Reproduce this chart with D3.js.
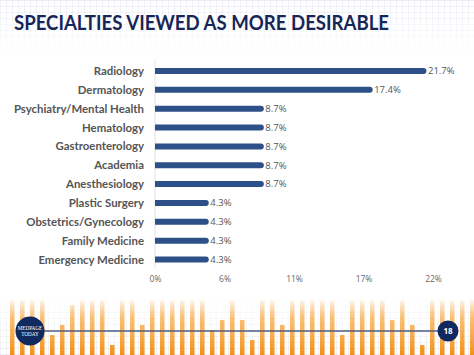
<!DOCTYPE html>
<html><head><meta charset="utf-8">
<script src="https://cdn.jsdelivr.net/npm/d3@7/dist/d3.min.js"></script>
<style>html,body{margin:0;padding:0;background:#fff;}svg{display:block;}</style>
</head><body>
<script>
const categories = ["Radiology","Dermatology","Psychiatry/Mental Health","Hematology","Gastroenterology","Academia","Anesthesiology","Plastic Surgery","Obstetrics/Gynecology","Family Medicine","Emergency Medicine"];
const values = [21.7,17.4,8.7,8.7,8.7,8.7,8.7,4.3,4.3,4.3,4.3];
const tickValues = [0, 100/18, 200/18, 300/18, 400/18];
const tickLabels = ["0%","6%","11%","17%","22%"];
const titleText = "SPECIALTIES VIEWED AS MORE DESIRABLE";
const pageNumber = "18";
// decorative footer stripe tops
const footerTops = [300,300,300,300,335,325,305,300,300,300,345,300,300,325,300,300,300,300,300,300,330,320,300,320,340,300,300,325,300,300,300,300,300,335,300,300,300,300,320,300,325,345,300,300,300,300,300];

const W = 474, H = 355;
const svg = d3.select("body").append("svg").attr("width", W).attr("height", H);
const defs = svg.append("defs");

// grid pattern
const pat = defs.append("pattern").attr("id","grid").attr("width",6).attr("height",6).attr("patternUnits","userSpaceOnUse");
pat.append("path").attr("d","M6 0 L0 0 L0 6").attr("fill","none").attr("stroke","#d6dbe6").attr("stroke-width",0.8);

const fadeTop = defs.append("linearGradient").attr("id","fadeTop").attr("x1",0).attr("y1",0).attr("x2",0).attr("y2",1);
fadeTop.append("stop").attr("offset","0%").attr("stop-color","#fff").attr("stop-opacity",1);
fadeTop.append("stop").attr("offset","100%").attr("stop-color","#fff").attr("stop-opacity",0);
const mTop = defs.append("mask").attr("id","mTop");
mTop.append("rect").attr("x",0).attr("y",0).attr("width",W).attr("height",55).attr("fill","url(#fadeTop)");
svg.append("rect").attr("x",0).attr("y",0).attr("width",W).attr("height",55).attr("fill","url(#grid)").attr("mask","url(#mTop)");

const fadeBot = defs.append("linearGradient").attr("id","fadeBot").attr("x1",0).attr("y1",0).attr("x2",0).attr("y2",1);
fadeBot.append("stop").attr("offset","0%").attr("stop-color","#fff").attr("stop-opacity",0);
fadeBot.append("stop").attr("offset","100%").attr("stop-color","#fff").attr("stop-opacity",1);
const mBot = defs.append("mask").attr("id","mBot");
mBot.append("rect").attr("x",0).attr("y",295).attr("width",W).attr("height",60).attr("fill","url(#fadeBot)");
svg.append("rect").attr("x",0).attr("y",295).attr("width",W).attr("height",60).attr("fill","url(#grid)").attr("mask","url(#mBot)");

// orange footer stripes
const og = defs.append("linearGradient").attr("id","orange").attr("gradientUnits","userSpaceOnUse").attr("x1",0).attr("y1",298).attr("x2",0).attr("y2",355);
og.append("stop").attr("offset","0%").attr("stop-color","#f7941d").attr("stop-opacity",0);
og.append("stop").attr("offset","35%").attr("stop-color","#f8a53a").attr("stop-opacity",0.7);
og.append("stop").attr("offset","100%").attr("stop-color","#f39018").attr("stop-opacity",1);
svg.append("g").selectAll("rect").data(footerTops).join("rect")
  .attr("x",(d,i)=>10+i*10).attr("y",d=>d).attr("width",4.5).attr("height",d=>H-d)
  .attr("fill","url(#orange)");

// title
svg.append("text").attr("x",14).attr("y",30).text(titleText)
  .attr("font-family","Lato, 'Open Sans', sans-serif").attr("font-weight",700).attr("font-size",20.5)
  .attr("fill","#172657").attr("textLength",375).attr("lengthAdjust","spacingAndGlyphs");

// chart
const x0 = 155;
const x = d3.scaleLinear().domain([0, 400/18]).range([x0, 433]);
const y = d3.scaleBand().domain(categories).range([61.5, 269]).paddingInner(0.68).paddingOuter(0.34);

svg.append("line").attr("x1",x0).attr("x2",x0).attr("y1",60).attr("y2",268).attr("stroke","#e2e2e2").attr("stroke-width",1);

const bh = 6;
const rows = svg.append("g").selectAll("g").data(categories).join("g");
rows.append("path").attr("fill","#2c5087")
  .attr("d",(c,i)=>{
    const yc = y(c)+y.bandwidth()/2, xe = x(values[i]), r = bh/2;
    return `M${x0},${yc-r} L${xe-r},${yc-r} A${r},${r} 0 0 1 ${xe-r},${yc+r} L${x0},${yc+r} Z`;
  });
rows.append("text").attr("x",144).attr("y",c=>y(c)+y.bandwidth()/2).attr("dy","0.35em")
  .attr("text-anchor","end").attr("font-family","Lato, sans-serif").attr("font-weight",700)
  .attr("font-size",11.4).attr("fill","#555").text(c=>c);
rows.append("text").attr("x",(c,i)=>x(values[i])+1.5).attr("y",c=>y(c)+y.bandwidth()/2).attr("dy","0.35em")
  .attr("font-family","'Open Sans', sans-serif").attr("font-size",9.5).attr("fill","#555")
  .text((c,i)=>values[i].toFixed(1)+"%");

const axis = d3.axisBottom(x).tickValues(tickValues).tickFormat((d,i)=>tickLabels[i]).tickSize(0).tickPadding(0);
const ag = svg.append("g").attr("transform","translate(0,276)").call(axis);
ag.select(".domain").remove();
ag.selectAll("text").attr("font-family","'Open Sans', sans-serif").attr("font-size",8.5).attr("fill","#666").attr("dy","0.71em");

// footer line and circles
svg.append("line").attr("x1",40).attr("x2",440).attr("y1",331).attr("y2",331).attr("stroke","#4f5d7c").attr("stroke-width",1.5);
svg.append("circle").attr("cx",30).attr("cy",331).attr("r",14.5).attr("fill","#10295e");
svg.append("text").attr("x",30).attr("y",330).attr("text-anchor","middle").attr("font-family","'Liberation Serif', serif").attr("font-size",5.2).attr("fill","#fff").text("MEDPAGE");
svg.append("text").attr("x",30).attr("y",335.5).attr("text-anchor","middle").attr("font-family","'Liberation Serif', serif").attr("font-size",5.2).attr("fill","#fff").text("TODAY");
svg.append("circle").attr("cx",448).attr("cy",331).attr("r",10.5).attr("fill","#10295e");
svg.append("text").attr("x",448).attr("y",331).attr("dy","0.35em").attr("text-anchor","middle").attr("font-family","'Open Sans', sans-serif").attr("font-weight",700).attr("font-size",8).attr("fill","#fff").text(pageNumber);
</script>
</body></html>
